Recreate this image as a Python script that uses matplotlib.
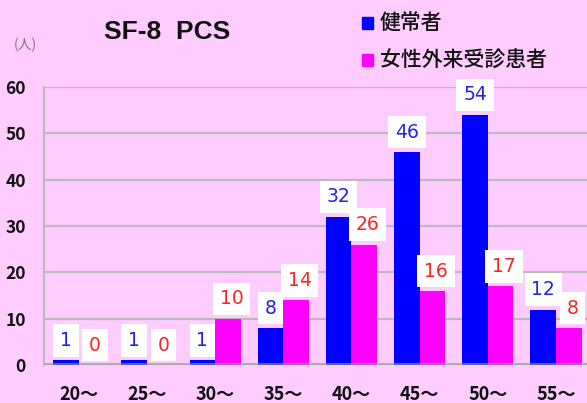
import numpy as np
import matplotlib.pyplot as plt
from matplotlib.patches import Rectangle

plt.rcParams['font.family'] = ['Noto Sans CJK JP', 'DejaVu Sans']

ages = ['20〜', '25〜', '30〜', '35〜', '40〜', '45〜', '50〜', '55〜']
healthy = [1, 1, 1, 8, 32, 46, 54, 12]
patients = [0, 0, 10, 14, 26, 16, 17, 8]
legend_names = ['健常者', '女性外来受診患者']

bg = '#ffccff'
blue = '#0000ff'
pink = '#ff00ff'

fig = plt.figure(figsize=(5.87, 4.03), dpi=100, facecolor=bg)
ax = fig.add_axes([0.075, 0.094, 0.925, 0.69])
ax.set_facecolor(bg)

x = np.arange(len(ages))
w = 0.375
ax.bar(x - w / 2, healthy, w, color=blue, zorder=2)
ax.bar(x + w / 2, patients, w, color=pink, zorder=2)

ax.set_xlim(-0.51, 7.455)
ax.set_ylim(0, 60)
ax.set_yticks(range(0, 61, 10))
ax.grid(axis='y', color='#bbbbbb', linewidth=1.6, zorder=0)
ax.axhline(0, color='#999999', linewidth=3, alpha=0.6, zorder=3)

for s in ['top', 'right', 'bottom']:
    ax.spines[s].set_visible(False)
ax.spines['left'].set_color('#bbbbbb')
ax.spines['left'].set_linewidth(1.5)

ax.set_xticks(x)
ax.set_xticklabels(ages)
ax.tick_params(axis='y', length=0, pad=13, labelsize=12.5)
ax.tick_params(axis='x', length=0, pad=14, labelsize=13)
for lbl in ax.get_yticklabels() + ax.get_xticklabels():
    lbl.set_fontweight('bold')
    lbl.set_color('#111111')

# white label boxes above each bar
box = dict(boxstyle='square,pad=0.36', facecolor='white', edgecolor='none')
for xi, v in zip(x, healthy):
    ax.annotate(str(v), (xi - w / 2, v), xytext=(0, 7.5), textcoords='offset points',
                ha='center', va='bottom', fontsize=13.5, color='#2222ee',
                family='DejaVu Sans', bbox=box, zorder=5, annotation_clip=False)
for xi, v in zip(x, patients):
    ax.annotate(str(v), (xi + w / 2, v), xytext=(2.5, 7.5), textcoords='offset points',
                ha='center', va='bottom', fontsize=13.5, color='#ff2222',
                family='DejaVu Sans', bbox=box, zorder=5, annotation_clip=False)

fig.text(167 / 587, 1 - 32 / 403, 'SF-8  PCS', ha='center', va='center',
         fontsize=19, fontweight='bold', family='Liberation Sans', color='#111111')
fig.text(14 / 587, 1 - 45 / 403, '(人)', ha='left', va='center',
         fontsize=10, color='#777777')

for i, (name, c) in enumerate(zip(legend_names, [blue, pink])):
    yc = 23 + 37 * i
    fig.patches.append(Rectangle((362 / 587, 1 - (yc + 6) / 403), 11 / 587, 12 / 403,
                                 transform=fig.transFigure, color=c, figure=fig))
    fig.text(380 / 587, 1 - yc / 403, name, ha='left', va='center',
             fontsize=15, fontweight='medium', color='#111111')

fig.savefig('out.png', dpi=100, facecolor=bg)
